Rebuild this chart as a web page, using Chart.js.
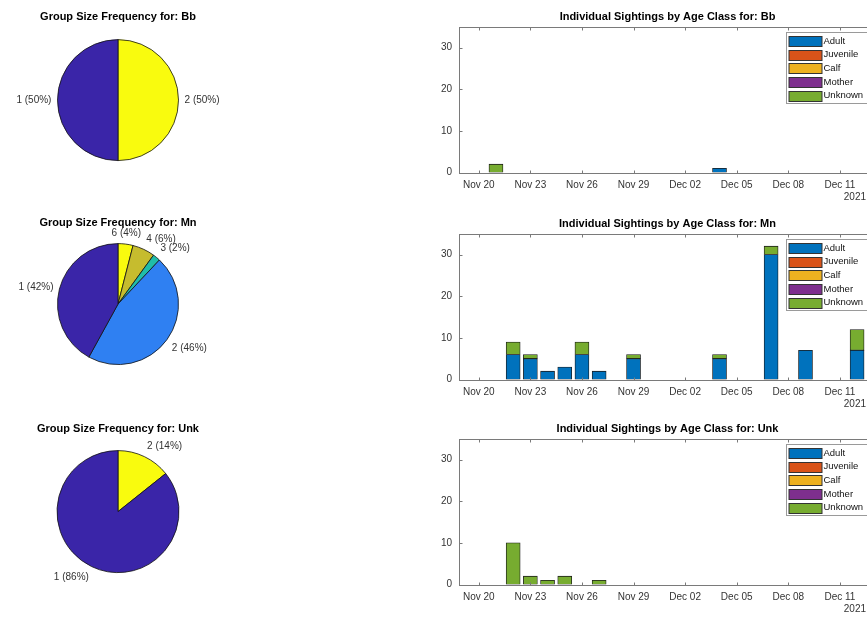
<!DOCTYPE html>
<html>
<head>
<meta charset="utf-8">
<script src="https://cdn.jsdelivr.net/npm/chart.js@4.4.1/dist/chart.umd.min.js"></script>
<style>
  html, body { margin: 0; padding: 0; background: #fff; width: 867px; height: 617px; overflow: hidden; }
  canvas { position: absolute; }
</style>
</head>
<body>
<canvas id="pie-bb" width="236" height="190" style="left:0;top:0"></canvas>
<canvas id="pie-mn" width="236" height="175" style="left:0;top:206px"></canvas>
<canvas id="pie-unk" width="236" height="200" style="left:0;top:412px"></canvas>
<canvas id="bar-bb" width="487" height="204" style="left:425px;top:0"></canvas>
<canvas id="bar-mn" width="487" height="204" style="left:425px;top:207px"></canvas>
<canvas id="bar-unk" width="487" height="204" style="left:425px;top:412px"></canvas>
<script>
// x values are days after Nov 20, 2021
const xTickDays = [0, 3, 6, 9, 12, 15, 18, 21]
const xTickLabels = ['Nov 20', 'Nov 23', 'Nov 26', 'Nov 29', 'Dec 02', 'Dec 05', 'Dec 08', 'Dec 11']
const yearLabel = '2021'
const yTickValues = [0, 10, 20, 30]

const ageClasses = ['Adult', 'Juvenile', 'Calf', 'Mother', 'Unknown']
const ageColors = ['#0072BD', '#D95319', '#EDB120', '#7E2F8E', '#77AC30']

// sightings per day
const bbDays = [1, 14]
const bbAdult = [0, 1]
const bbJuvenile = [0, 0]
const bbCalf = [0, 0]
const bbMother = [0, 0]
const bbUnknown = [2, 0]

const mnDays = [2, 3, 4, 5, 6, 7, 9, 14, 17, 19, 22]
const mnAdult = [6, 5, 2, 3, 6, 2, 5, 5, 30, 7, 7]
const mnJuvenile = [0, 0, 0, 0, 0, 0, 0, 0, 0, 0, 0]
const mnCalf = [0, 0, 0, 0, 0, 0, 0, 0, 0, 0, 0]
const mnMother = [0, 0, 0, 0, 0, 0, 0, 0, 0, 0, 0]
const mnUnknown = [3, 1, 0, 0, 3, 0, 1, 1, 2, 0, 5]

const unkDays = [2, 3, 4, 5, 7]
const unkAdult = [0, 0, 0, 0, 0]
const unkJuvenile = [0, 0, 0, 0, 0]
const unkCalf = [0, 0, 0, 0, 0]
const unkMother = [0, 0, 0, 0, 0]
const unkUnknown = [10, 2, 1, 2, 1]

// group size frequencies
const bbSizes = [1, 2]
const bbCounts = [1, 1]
const mnSizes = [1, 2, 3, 4, 6]
const mnCounts = [21, 23, 1, 3, 2]
const unkSizes = [1, 2]
const unkCounts = [6, 1]

const pieColors2 = ['#3A25A8', '#F9FB0E']
const pieColors5 = ['#3A25A8', '#2F80F2', '#20BDA9', '#C6BC2E', '#F9FB0E']

const FONT = '"Liberation Sans", Arial, sans-serif'
Chart.defaults.font.family = FONT
Chart.defaults.color = '#333'

let pieLabels = {
    id: 'pieLabels',
    afterDatasetsDraw(chart) {
        let ctx = chart.ctx
        let meta = chart.getDatasetMeta(0)
        ctx.save()
        ctx.font = '10px ' + FONT
        ctx.fillStyle = '#333'
        meta.data.forEach((arc, i) => {
            let p = arc.getProps(['x', 'y', 'startAngle', 'endAngle', 'outerRadius'], true)
            let mid = (p.startAngle + p.endAngle) / 2
            let c = Math.cos(mid), s = Math.sin(mid)
            let r = p.outerRadius * 1.1
            ctx.textAlign = c > 0.3 ? 'left' : (c < -0.3 ? 'right' : 'center')
            ctx.textBaseline = s < -0.3 ? 'bottom' : (s > 0.3 ? 'top' : 'middle')
            ctx.fillText(chart.data.labels[i], p.x + r * c, p.y + r * s)
        })
        ctx.restore()
    }
}

function makePie(id, name, sizes, counts, colors, titleBottom, padBottom) {
    let total = counts.reduce((a, b) => a + b, 0)
    let labels = sizes.map((s, i) => s + ' (' + Math.round(100 * counts[i] / total) + '%)')
    // matlab draws counter-clockwise from the top, chart.js clockwise
    new Chart(document.getElementById(id), {
        type: 'pie',
        data: {
            labels: labels.slice().reverse(),
            datasets: [{
                data: counts.slice().reverse(),
                backgroundColor: colors.slice().reverse(),
                borderColor: '#111',
                borderWidth: 0.8,
                hoverOffset: 0,
                offset: 0
            }]
        },
        options: {
            responsive: false,
            animation: false,
            events: [],
            layout: { padding: { bottom: padBottom } },
            plugins: {
                legend: { display: false },
                tooltip: { enabled: false },
                title: {
                    display: true,
                    text: 'Group Size Frequency for: ' + name,
                    color: '#000',
                    font: { size: 11, weight: 'bold' },
                    padding: { top: 10, bottom: titleBottom }
                }
            }
        },
        plugins: [pieLabels]
    })
}

let matlabAxes = {
    id: 'matlabAxes',
    afterLayout(chart) {
        chart.titleBlock.left = chart.chartArea.left
        chart.titleBlock.right = chart.chartArea.right
    },
    afterDraw(chart) {
        let ctx = chart.ctx
        let a = chart.chartArea
        let x = chart.scales.x, y = chart.scales.y
        ctx.save()
        ctx.strokeStyle = '#7a7a7a'
        ctx.lineWidth = 1
        let l = Math.round(a.left) + 0.5, t = Math.round(a.top) + 0.5
        let b = Math.round(a.bottom) + 0.5, r = Math.round(a.right) + 0.5
        ctx.strokeRect(l, t, r - l, b - t)
        ctx.beginPath()
        x.ticks.forEach(tk => {
            let px = Math.round(x.getPixelForValue(tk.value)) + 0.5
            ctx.moveTo(px, b); ctx.lineTo(px, b - 3)
            ctx.moveTo(px, t); ctx.lineTo(px, t + 3)
        })
        y.ticks.forEach(tk => {
            let py = Math.round(y.getPixelForValue(tk.value)) + 0.5
            ctx.moveTo(l, py); ctx.lineTo(l + 3, py)
        })
        ctx.stroke()

        // legend, top right inside the axes
        let bx = Math.round(a.right - 90) + 0.5
        let by = Math.round(a.top + 5) + 0.5
        ctx.fillStyle = '#fff'
        ctx.fillRect(bx, by, 85, 71)
        ctx.strokeStyle = '#9a9a9a'
        ctx.strokeRect(bx, by, 85, 71)
        ctx.font = '9.5px ' + FONT
        ctx.textAlign = 'left'
        ctx.textBaseline = 'middle'
        chart.data.datasets.forEach((ds, i) => {
            let cy = a.top + 14.4 + i * 13.6
            ctx.fillStyle = ds.backgroundColor
            ctx.fillRect(bx + 2.5, Math.round(cy - 5), 33, 10)
            ctx.strokeStyle = '#333'
            ctx.strokeRect(bx + 2.5, Math.round(cy - 5) + 0.5, 33, 10)
            ctx.fillStyle = '#111'
            ctx.fillText(ds.label, bx + 37, cy)
        })

        ctx.fillStyle = '#333'
        ctx.font = '10px ' + FONT
        ctx.textAlign = 'right'
        ctx.fillText(yearLabel, a.right - 10, a.bottom + 25)
        ctx.restore()
    }
}

function makeBars(id, name, days, series) {
    let datasets = series.map((values, i) => ({
        label: ageClasses[i],
        data: days.map((d, j) => ({ x: d, y: values[j] })),
        backgroundColor: ageColors[i],
        borderColor: '#1a1a1a',
        borderWidth: 0.8,
        borderSkipped: false,
        barThickness: 14
    }))
    new Chart(document.getElementById(id), {
        type: 'bar',
        data: { datasets: datasets },
        options: {
            responsive: false,
            animation: false,
            events: [],
            layout: { padding: { right: 36, bottom: 5.5 } },
            scales: {
                x: {
                    type: 'linear',
                    stacked: true,
                    offset: false,
                    min: -1.15,
                    max: 23.1,
                    grid: { display: false, drawTicks: false },
                    border: { display: false },
                    afterBuildTicks: scale => { scale.ticks = xTickDays.map(v => ({ value: v })) },
                    ticks: {
                        padding: 7,
                        maxRotation: 0,
                        autoSkip: false,
                        color: '#333',
                        font: { size: 10 },
                        callback: value => xTickLabels[xTickDays.indexOf(value)]
                    }
                },
                y: {
                    stacked: true,
                    min: 0,
                    max: 35,
                    grid: { display: false, drawTicks: false },
                    border: { display: false },
                    afterBuildTicks: scale => { scale.ticks = yTickValues.map(v => ({ value: v })) },
                    afterFit: scale => { scale.width = 34 },
                    ticks: { padding: 7, color: '#333', font: { size: 10 } }
                }
            },
            plugins: {
                legend: { display: false },
                tooltip: { enabled: false },
                title: {
                    display: true,
                    text: 'Individual Sightings by Age Class for: ' + name,
                    color: '#000',
                    font: { size: 11, weight: 'bold' },
                    padding: { top: 10, bottom: 3.5 }
                }
            }
        },
        plugins: [matlabAxes]
    })
}

makePie('pie-bb', 'Bb', bbSizes, bbCounts, pieColors2, 16, 29)
makePie('pie-mn', 'Mn', mnSizes, mnCounts, pieColors5, 14, 16)
makePie('pie-unk', 'Unk', unkSizes, unkCounts, pieColors2, 15, 39)

makeBars('bar-bb', 'Bb', bbDays, [bbAdult, bbJuvenile, bbCalf, bbMother, bbUnknown])
makeBars('bar-mn', 'Mn', mnDays, [mnAdult, mnJuvenile, mnCalf, mnMother, mnUnknown])
makeBars('bar-unk', 'Unk', unkDays, [unkAdult, unkJuvenile, unkCalf, unkMother, unkUnknown])
</script>
</body>
</html>
